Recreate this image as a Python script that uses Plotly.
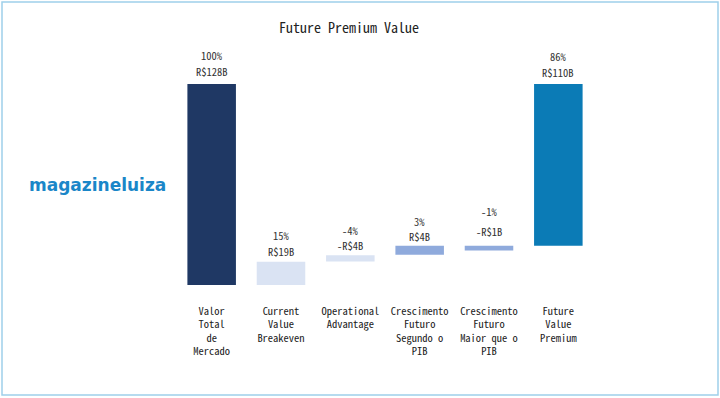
import plotly.graph_objects as go

categories = ["Valor Total de Mercado", "Current Value Breakeven", "Operational Advantage",
              "Crescimento Futuro Segundo o PIB", "Crescimento Futuro Maior que o PIB",
              "Future Value Premium"]
tick_labels = ["Valor<br>Total<br>de<br>Mercado", "Current<br>Value<br>Breakeven",
               "Operational<br>Advantage", "Crescimento<br>Futuro<br>Segundo o<br>PIB",
               "Crescimento<br>Futuro<br>Maior que o<br>PIB", "Future<br>Value<br>Premium"]
pct_labels = ["100%", "15%", "-4%", "3%", "-1%", "86%"]
value_labels = ["R$128B", "R$19B", "-R$4B", "R$4B", "-R$1B", "R$110B"]
# bar start / end as drawn (R$ billions on the chart scale)
bar_start = [0, 0, 15.0, 19.3, 22.0, 25.0]
bar_end = [128, 14.8, 18.9, 25.0, 25.0, 128]
bar_colors = ["#1f3864", "#dae3f3", "#dae3f3", "#8faadc", "#8faadc", "#0b7bb6"]

# label offsets above bar tops (pixels)
value_shift = [13, 10, 10, 9, 14, 12]
pct_shift = [29, 26, 25, 24, 34, 28]

MONO = "Noto Sans Mono CJK JP, Noto Sans CJK JP, DejaVu Sans Mono, monospace"

heights = [e - s for s, e in zip(bar_start, bar_end)]

fig = go.Figure(go.Bar(
    x=categories, y=heights, base=bar_start,
    marker=dict(color=bar_colors, line=dict(width=0)),
    width=0.70, hoverinfo="skip"))

for c, p, v, e, vs, ps in zip(categories, pct_labels, value_labels, bar_end, value_shift, pct_shift):
    fig.add_annotation(x=c, y=e, xref="x", yref="y", text=v,
                       showarrow=False, yanchor="middle", yshift=vs, borderpad=0,
                       font=dict(family=MONO, size=10.5, color="#333333"))
    fig.add_annotation(x=c, y=e, xref="x", yref="y", text=p,
                       showarrow=False, yanchor="middle", yshift=ps, borderpad=0,
                       font=dict(family=MONO, size=10.5, color="#333333"))

fig.update_layout(
    width=720, height=398,
    margin=dict(l=177, r=127, t=84, b=113),
    paper_bgcolor="white", plot_bgcolor="white",
    showlegend=False,
    title=dict(text="Future Premium Value", x=349 / 720, xanchor="center",
               y=1 - 28 / 398, yanchor="middle",
               font=dict(family=MONO, size=14, color="#222222")),
    xaxis=dict(tickmode="array", tickvals=categories, ticktext=tick_labels,
               showgrid=False, zeroline=False, showline=False, ticks="",
               ticklabelstandoff=18, range=[-0.5, 5.5],
               tickfont=dict(family=MONO, size=10.5, color="#222222")),
    yaxis=dict(visible=False, range=[0, 128]),
)

fig.add_annotation(x=-0.192, y=0.5, xref="paper", yref="paper", text="<b>magazineluiza</b>",
                   showarrow=False, xanchor="center", yanchor="middle",
                   font=dict(family="DejaVu Sans", size=17, color="#1a86c8"))

fig.add_shape(type="rect", xref="paper", yref="paper",
              x0=(2 - 177) / 416, x1=(718 - 177) / 416,
              y0=(285 - 395) / 201, y1=(285 - 2) / 201,
              line=dict(color="#9fd0ea", width=1.5), fillcolor="rgba(0,0,0,0)")

fig.write_html("out.html", config={"displayModeBar": False},
               post_script="document.body.style.margin='0';")
